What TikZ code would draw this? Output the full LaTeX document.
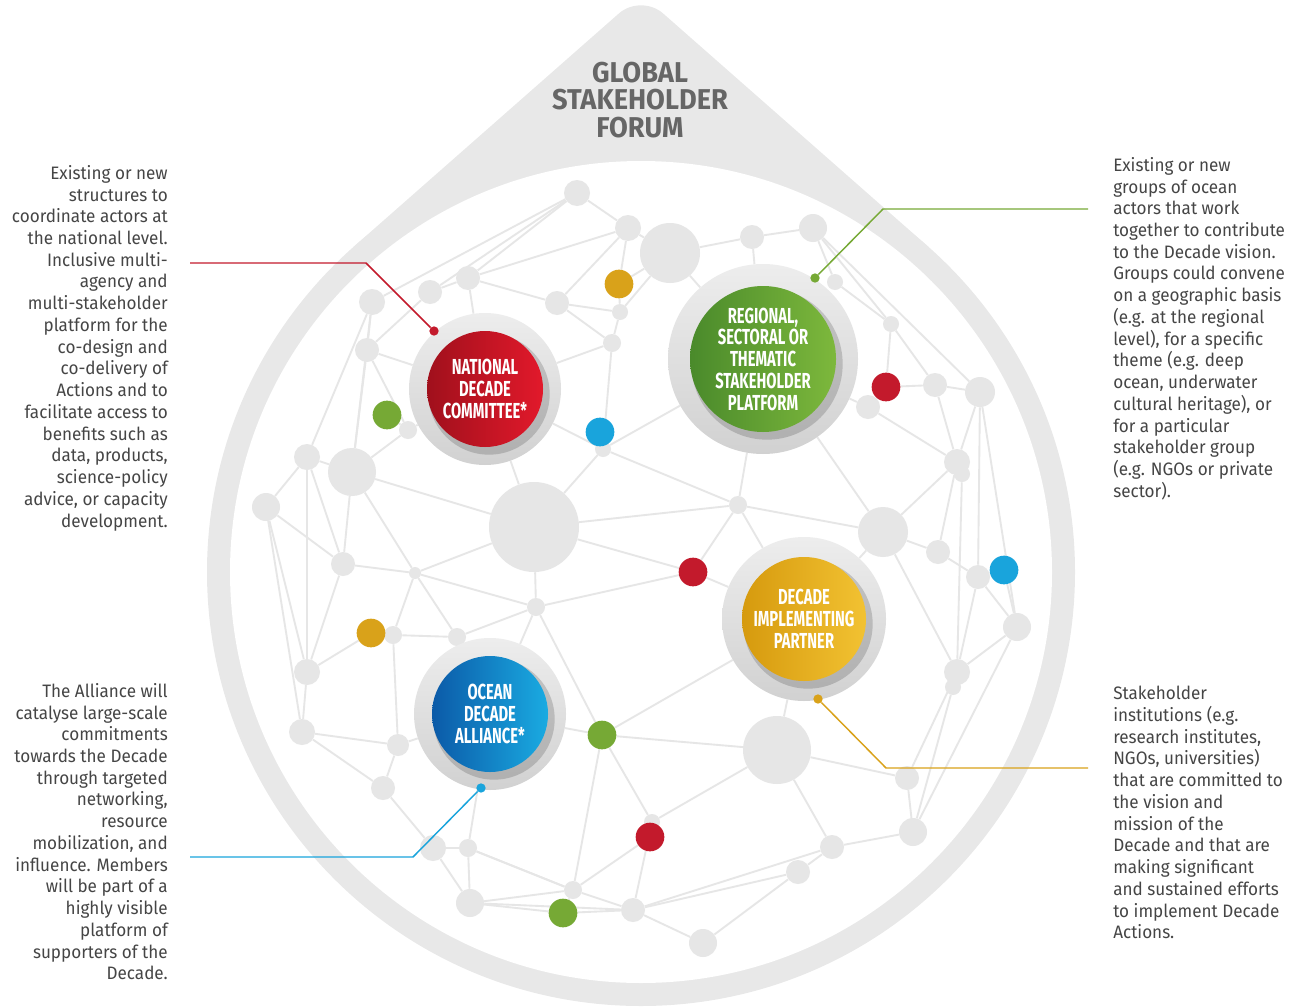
\documentclass[tikz,border=0pt]{standalone}
\usepackage{fontspec}
\setmainfont{Fira Sans}
\newfontfamily\condfont[FakeStretch=0.68]{Fira Sans}
\newfontfamily\titlefont[FakeStretch=0.95]{Fira Sans}
\newfontfamily\bodyfont[FakeStretch=0.95]{Fira Sans}
\definecolor{netgray}{HTML}{E6E6E6}
\definecolor{ringgray}{HTML}{E8E8E8}
\definecolor{txtgray}{HTML}{454545}
\definecolor{titlegray}{HTML}{666666}
\definecolor{cred}{HTML}{C31A2C}
\definecolor{cgreen}{HTML}{76A935}
\definecolor{cblue}{HTML}{19A4DC}
\definecolor{cgold}{HTML}{D9A21A}
\definecolor{ndcdark}{HTML}{A0101C}
\definecolor{ndclight}{HTML}{E2192B}
\definecolor{rstpdark}{HTML}{4A8A2B}
\definecolor{rstplight}{HTML}{7DB83C}
\definecolor{dipdark}{HTML}{D69A0E}
\definecolor{diplight}{HTML}{F2C232}
\definecolor{odadark}{HTML}{0B5AA8}
\definecolor{odalight}{HTML}{1AABE2}
\pgfdeclarelayer{bg}
\pgfdeclarelayer{lines}
\pgfsetlayers{bg,lines,main}
\tikzset{
  gn/.style={circle, fill=netgray, inner sep=0pt},
  cdot/.style={circle, inner sep=0pt, minimum size=21.5pt},
  netline/.style={draw=netgray, line width=1.4pt},
  mainring/.style={circle, inner sep=0pt, top color=black!7, bottom color=black!18},
  maininner/.style={circle, inner sep=0pt, text=white, align=center,
    font=\condfont\bfseries\fontsize{16.3}{16.3}\selectfont},
  ldot/.style={circle, inner sep=0pt, minimum size=7pt},
  leader/.style={line width=1.1pt},
  bodytext/.style={inner sep=0pt, text=txtgray, font=\bodyfont\fontsize{13.5}{16.3}\selectfont},
  titletext/.style={inner sep=0pt, text=titlegray, align=center,
    font=\titlefont\bfseries\fontsize{21.5}{20.3}\selectfont}
}
\newcommand\mainhub[8]{%
  \node[mainring, minimum size=#4*1.5pt] (#1) at (#2,#3) {};
  \fill[black, opacity=.16] (#2+4,#3+5) circle (#5*0.75pt+2pt);
  \node[maininner, minimum size=#5*1.5pt, left color=#6, right color=#7] (#1in) at (#2,#3) {#8};}
\begin{document}
\begin{tikzpicture}[x=0.75pt,y=-0.75pt]
\useasboundingbox (0,0) rectangle (1298,1006);
\begin{pgfonlayer}{bg}
  \fill[ringgray] (353.1,247.3) [rounded corners=22pt] -- (641,-6) [sharp corners] -- (928.9,247.3) -- cycle;
  \fill[ringgray] (641,572) circle (325.5pt);
  \fill[white] (641,572) circle (308.25pt);
\end{pgfonlayer}

% network nodes
\foreach \n/\x/\y/\r in {n1/577/193/13, n2/628/228/13, n3/670/253/30, n4/752/237/12, n5/813/228/14,
  n6/557/303/12, n7/468/278/12, n8/430/292/12, n9/372/302/13, n10/367/350/12, n11/620/312/8,
  n12/612/343/9, n13/408/430/9, n14/603/449/8, n15/352/472/24, n16/307/457/13, n17/266/507/14,
  n18/534/527/45, n19/343/564/12, n20/415/573/6, n21/536/607/9, n22/738/505/9, n23/393/635/9,
  n24/457/637/9, n25/307/672/13, n26/302/732/13, n27/398/745/11, n28/383/788/12, n29/433/848/13,
  n30/468/848/9, n31/470/903/14, n32/573/890/9, n33/633/910/12, n34/703/943/14, n35/798/872/12,
  n36/832/847/12, n37/913/832/14, n38/907/778/12, n39/777/750/34, n40/957/672/13, n41/1017/627/14,
  n42/978/577/12, n43/938/552/12, n44/883/532/25, n45/957/462/13, n46/980/392/15, n47/935/385/12,
  n48/868/407/12, n49/891/324/8, n50/835/282/8, n51/652/822/8, n52/962/474/8, n53/953/687/8}
  \node[gn, minimum size=\r*1.5pt] (\n) at (\x,\y) {};

% coloured dots
\foreach \n/\x/\y/\c in {o1/619/284/cgold, g1/387/415/cgreen, b1/600/432/cblue, r1/886/387/cred,
  r2/693/572/cred, b2/1004/570/cblue, o2/371/633/cgold, g2/602/735/cgreen, r3/650/837/cred,
  g3/563/913/cgreen}
  \node[cdot, fill=\c] (\n) at (\x,\y) {};

% hubs
\mainhub{ndc}{485}{389}{76}{58}{ndcdark}{ndclight}{NATIONAL\\DECADE\\COMMITTEE*}
\mainhub{rstp}{763}{359}{95}{73}{rstpdark}{rstplight}{REGIONAL,\\SECTORAL OR\\THEMATIC\\STAKEHOLDER\\PLATFORM}
\mainhub{dip}{804}{619}{82}{62}{dipdark}{diplight}{DECADE\\IMPLEMENTING\\PARTNER}
\mainhub{oda}{490}{714}{76}{58}{odadark}{odalight}{OCEAN\\DECADE\\ALLIANCE*}

\begin{pgfonlayer}{lines}
\foreach \a/\b in {n1/n2, n2/n3, n3/n4, n4/n5, n1/n8, n1/n9, n2/n7, n2/n6, n3/o1, n2/o1,
  o1/n11, n11/n12, n11/n6, n6/n12, n6/n7, n7/n8, n7/ndc, n8/n10, n9/n10, n9/n16, n10/n13,
  n10/n15, n10/ndc, n13/g1, n13/n15, n13/ndc, ndc/n18, ndc/n12, ndc/n14, n12/n14, n14/b1,
  n14/n18, n14/n22, n14/rstp, n3/rstp, n4/rstp, n5/n50, n50/n49, n5/n49, n5/n46, n49/r1,
  n49/n47, r1/n47, r1/n48, n48/rstp, n47/n46, n47/n45, n46/n45, n46/n42, n46/n41, n48/n45,
  n45/n44, n45/n43, n52/n40, rstp/n22, rstp/n44, n22/n44, n22/r2, n22/dip, n22/n18, n44/n43,
  n43/n42, n42/b2, n42/n40, n42/n41, b2/n41, n41/n40, n41/n37, n44/n40, n40/n38, n53/n37,
  n44/dip, dip/n39, n39/n38, n39/n36, n39/n51, n38/n37, n37/n36, n36/n35, n36/n33, n35/n34,
  n35/n33, n34/n33, n33/n32, n33/g3, n32/g3, n32/n31, n32/r3, n32/n30, n32/g2, r3/n51,
  n51/g2, n51/n33, g2/n21, g2/oda, g2/dip, g2/n39, n21/n18, n21/r2, r2/n18, r2/dip, n21/n24,
  n21/oda, n21/n20, n24/n23, n23/o2, n23/n20, n24/n20, n24/oda, n20/n19, n20/n15, n20/n18,
  n19/n15, n19/n17, n19/n25, n19/n16, n25/o2, n25/n26, n25/n17, n26/n27, n26/n28, n27/n28,
  n27/oda, n27/n23, n28/n29, n29/n30, n29/n31, n30/n31, n31/g3, n30/oda, n30/n32, n17/n16,
  n16/n15, n15/n18, n17/n26, n16/n25, n31/n33, n9/n15, n3/n11, n1/n7}
  \draw[netline] (\a) -- (\b);
\end{pgfonlayer}

% title
\node[titletext] (title) at (640,100) {GLOBAL\\STAKEHOLDER\\FORUM};

% leader lines
\node[ldot, fill=cred] (ndcdot) at (434,331) {};
\coordinate (ndcA) at (190,263);
\coordinate (ndcB) at (366,263);
\draw[leader, draw=cred] (ndcA) -- (ndcB) -- (ndcdot);

\node[ldot, fill=cgreen] (rstpdot) at (815,278) {};
\coordinate (rstpA) at (1088,209);
\coordinate (rstpB) at (883,209);
\draw[leader, draw=cgreen] (rstpA) -- (rstpB) -- (rstpdot);

\node[ldot, fill=cblue] (odadot) at (481,788) {};
\coordinate (odaA) at (190,857);
\coordinate (odaB) at (413,857);
\draw[leader, draw=cblue] (odaA) -- (odaB) -- (odadot);

\node[ldot, fill=cgold] (dipdot) at (818,699) {};
\coordinate (dipA) at (1088,768);
\coordinate (dipB) at (886,768);
\draw[leader, draw=cgold] (dipA) -- (dipB) -- (dipdot);

% texts
\node[bodytext, anchor=north east, align=right] (t1) at (168,165) {Existing or new\\structures to\\coordinate actors at\\the national level.\\Inclusive multi-\\agency and\\multi-stakeholder\\platform for the\\co-design and\\co-delivery of\\Actions and to\\facilitate access to\\benefits such as\\data, products,\\science-policy\\advice, or capacity\\development.};
\node[bodytext, anchor=north east, align=right] (t2) at (168,683) {The Alliance will\\catalyse large-scale\\commitments\\towards the Decade\\through targeted\\networking,\\resource\\mobilization, and\\influence. Members\\will be part of a\\highly visible\\platform of\\supporters of the\\Decade.};
\node[bodytext, anchor=north west, align=left] (t3) at (1113,157) {Existing or new\\groups of ocean\\actors that work\\together to contribute\\to the Decade vision.\\Groups could convene\\on a geographic basis\\(e.g. at the regional\\level), for a specific\\theme (e.g. deep\\ocean, underwater\\cultural heritage), or\\for a particular\\stakeholder group\\(e.g. NGOs or private\\sector).};
\node[bodytext, anchor=north west, align=left] (t4) at (1113,686) {Stakeholder\\institutions (e.g.\\research institutes,\\NGOs, universities)\\that are committed to\\the vision and\\mission of the\\Decade and that are\\making significant\\and sustained efforts\\to implement Decade\\Actions.};
\end{tikzpicture}
\end{document}
